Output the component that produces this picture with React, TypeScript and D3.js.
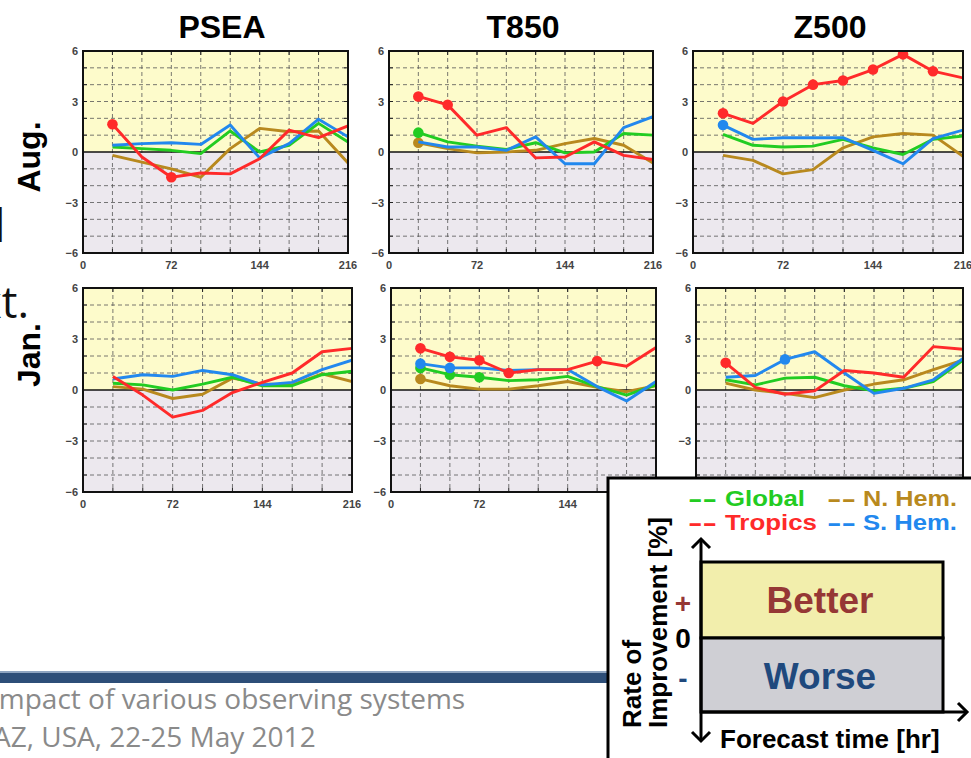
import React from 'react';
import * as d3 from 'd3';

// ---------- data ----------
const hours = [24, 48, 72, 96, 120, 144, 168, 192, 216];
const xTickValues = [0, 72, 144, 216];
const yTickValues = [6, 3, 0, -3, -6];
const variables = ['PSEA', 'T850', 'Z500'];
const months = ['Aug.', 'Jan.'];
const regionNames = ['Global', 'Tropics', 'N. Hem.', 'S. Hem.'];

// PSEA, August
const pseaAugGlobal = [0.3, 0.2, 0.1, -0.1, 1.25, 0.0, 0.4, 1.7, 0.6];
const pseaAugTropics = [1.65, -0.3, -1.5, -1.25, -1.3, -0.4, 1.3, 0.85, 1.55];
const pseaAugNH = [-0.2, -0.6, -1.0, -1.5, 0.2, 1.4, 1.2, 1.25, -0.65];
const pseaAugSH = [0.4, 0.5, 0.55, 0.45, 1.6, -0.35, 0.5, 1.95, 0.9];
// T850, August
const t850AugGlobal = [1.15, 0.6, 0.35, 0.15, 0.55, -0.05, 0.0, 1.1, 1.0];
const t850AugTropics = [3.3, 2.8, 1.0, 1.45, -0.35, -0.3, 0.6, -0.2, -0.45];
const t850AugNH = [0.55, 0.2, -0.05, 0.0, 0.1, 0.5, 0.8, 0.4, -0.65];
const t850AugSH = [0.6, 0.3, 0.3, 0.1, 0.9, -0.7, -0.7, 1.45, 2.1];
// Z500, August
const z500AugGlobal = [1.05, 0.4, 0.3, 0.35, 0.75, 0.25, -0.15, 0.75, 0.95];
const z500AugTropics = [2.3, 1.7, 3.0, 4.0, 4.25, 4.9, 5.8, 4.8, 4.4];
const z500AugNH = [-0.2, -0.5, -1.3, -1.05, 0.25, 0.9, 1.1, 1.0, -0.25];
const z500AugSH = [1.6, 0.75, 0.85, 0.85, 0.85, 0.1, -0.7, 0.8, 1.3];
// PSEA, January
const pseaJanGlobal = [0.4, 0.3, 0.0, 0.35, 0.75, 0.25, 0.25, 0.9, 1.1];
const pseaJanTropics = [0.8, -0.3, -1.6, -1.2, -0.15, 0.45, 1.0, 2.25, 2.45];
const pseaJanNH = [0.2, 0.05, -0.5, -0.25, 0.7, 0.35, 0.3, 0.95, 0.5];
const pseaJanSH = [0.65, 0.9, 0.8, 1.15, 0.9, 0.3, 0.45, 1.2, 1.75];
// T850, January
const t850JanGlobal = [1.3, 0.9, 0.75, 0.55, 0.6, 0.8, 0.2, -0.3, 0.3];
const t850JanTropics = [2.45, 1.95, 1.75, 1.0, 1.2, 1.2, 1.7, 1.4, 2.5];
const t850JanNH = [0.65, 0.25, 0.05, 0.05, 0.25, 0.5, 0.15, -0.1, 0.25];
const t850JanSH = [1.55, 1.3, 1.3, 1.15, 1.2, 1.2, 0.2, -0.65, 0.5];
// Z500, January
const z500JanGlobal = [0.6, 0.3, 0.7, 0.75, 0.25, -0.05, 0.1, 0.5, 1.75];
const z500JanTropics = [1.6, 0.15, -0.25, -0.05, 1.15, 1.0, 0.75, 2.55, 2.4];
const z500JanNH = [0.4, 0.0, -0.2, -0.45, 0.0, 0.35, 0.6, 1.2, 1.75];
const z500JanSH = [0.75, 0.85, 1.8, 2.25, 1.0, -0.2, 0.1, 0.6, 1.85];

// forecast hours marked as significant (dots)
const pseaAugTropicsSig = [24, 72];
const t850AugTropicsSig = [24, 48];
const t850AugGlobalSig = [24];
const t850AugNHSig = [24];
const z500AugTropicsSig = [24, 72, 96, 120, 144, 168, 192];
const z500AugSHSig = [24];
const t850JanTropicsSig = [24, 48, 72, 96, 168];
const t850JanSHSig = [24, 48];
const t850JanGlobalSig = [24, 48, 72];
const t850JanNHSig = [24];
const z500JanTropicsSig = [24];
const z500JanSHSig = [72];

// ---------- styling ----------
const COLORS: Record<string, string> = {
  'Global': '#22cc22',
  'Tropics': '#ff2a2a',
  'N. Hem.': '#b8891e',
  'S. Hem.': '#2288ee',
};
const FONT = 'Liberation Sans, Arial, Helvetica, sans-serif';

type Series = { name: string; values: number[]; sig: number[] };
type Box = { x0: number; x1: number; y0: number; y1: number };

const mk = (g: number[], t: number[], n: number[], s: number[], gs: number[] = [], ts: number[] = [], ns: number[] = [], ss: number[] = []): Series[] => [
  { name: 'N. Hem.', values: n, sig: ns },
  { name: 'Global', values: g, sig: gs },
  { name: 'S. Hem.', values: s, sig: ss },
  { name: 'Tropics', values: t, sig: ts },
];

const panelSeries: Series[][][] = [
  [
    mk(pseaAugGlobal, pseaAugTropics, pseaAugNH, pseaAugSH, [], pseaAugTropicsSig),
    mk(t850AugGlobal, t850AugTropics, t850AugNH, t850AugSH, t850AugGlobalSig, t850AugTropicsSig, t850AugNHSig),
    mk(z500AugGlobal, z500AugTropics, z500AugNH, z500AugSH, [], z500AugTropicsSig, [], z500AugSHSig),
  ],
  [
    mk(pseaJanGlobal, pseaJanTropics, pseaJanNH, pseaJanSH),
    mk(t850JanGlobal, t850JanTropics, t850JanNH, t850JanSH, t850JanGlobalSig, t850JanTropicsSig, t850JanNHSig, t850JanSHSig),
    mk(z500JanGlobal, z500JanTropics, z500JanNH, z500JanSH, [], z500JanTropicsSig, [], z500JanSHSig),
  ],
];

const boxes: Box[][] = [
  [
    { x0: 83, x1: 348, y0: 51, y1: 253 },
    { x0: 389, x1: 653, y0: 51, y1: 253 },
    { x0: 693, x1: 963, y0: 51, y1: 253 },
  ],
  [
    { x0: 83, x1: 352, y0: 288, y1: 492 },
    { x0: 391, x1: 656, y0: 288, y1: 492 },
    { x0: 696, x1: 963, y0: 288, y1: 492 },
  ],
];

function Panel({ box, series, id }: { box: Box; series: Series[]; id: string }) {
  const x = d3.scaleLinear().domain([0, 216]).range([box.x0, box.x1]);
  const y = d3.scaleLinear().domain([-6, 6]).range([box.y1, box.y0]);
  const line = d3
    .line<number>()
    .x((_, i) => x(hours[i]))
    .y((d) => y(d));
  const vGrid = d3.range(24, 216, 24);
  const hGrid = d3.range(-5, 6).filter((v) => v !== 0);
  const w = box.x1 - box.x0;
  return (
    <g>
      <defs>
        <clipPath id={id}>
          <rect x={box.x0} y={box.y0} width={w} height={box.y1 - box.y0} />
        </clipPath>
      </defs>
      <rect x={box.x0} y={y(6)} width={w} height={y(0) - y(6)} fill="#fdfbcb" />
      <rect x={box.x0} y={y(0)} width={w} height={y(-6) - y(0)} fill="#ece8ee" />
      {vGrid.map((h) => (
        <line key={'v' + h} x1={x(h)} x2={x(h)} y1={box.y0} y2={box.y1} stroke="#555" strokeWidth={0.8} strokeDasharray="4,3" />
      ))}
      {hGrid.map((v) => (
        <line key={'h' + v} x1={box.x0} x2={box.x1} y1={y(v)} y2={y(v)} stroke="#555" strokeWidth={0.8} strokeDasharray="4,3" />
      ))}
      {vGrid.map((h) => (
        <g key={'t' + h}>
          <line x1={x(h)} x2={x(h)} y1={box.y0} y2={box.y0 + 4} stroke="#222" strokeWidth={1} />
          <line x1={x(h)} x2={x(h)} y1={box.y1} y2={box.y1 - 4} stroke="#222" strokeWidth={1} />
        </g>
      ))}
      {hGrid.map((v) => (
        <g key={'u' + v}>
          <line x1={box.x0} x2={box.x0 + 4} y1={y(v)} y2={y(v)} stroke="#222" strokeWidth={1} />
          <line x1={box.x1} x2={box.x1 - 4} y1={y(v)} y2={y(v)} stroke="#222" strokeWidth={1} />
        </g>
      ))}
      <line x1={box.x0} x2={box.x1} y1={y(0)} y2={y(0)} stroke="#111" strokeWidth={1.3} />
      <g clipPath={`url(#${id})`}>
        {series.map((s) => (
          <g key={s.name}>
            <path d={line(s.values) || ''} fill="none" stroke={COLORS[s.name]} strokeWidth={2.9} strokeLinejoin="round" />
            {s.sig.map((h) => (
              <circle key={h} cx={x(h)} cy={y(s.values[hours.indexOf(h)])} r={5.3} fill={COLORS[s.name]} />
            ))}
          </g>
        ))}
      </g>
      <rect x={box.x0} y={box.y0} width={w} height={box.y1 - box.y0} fill="none" stroke="#111" strokeWidth={2} />
      {yTickValues.map((v) => (
        <text key={'yl' + v} x={box.x0 - 5} y={y(v) + 4} textAnchor="end" fontFamily={FONT} fontWeight="bold" fontSize={11} fill="#444">
          {v < 0 ? '\u2212' + Math.abs(v) : String(v)}
        </text>
      ))}
      {xTickValues.map((h) => (
        <text key={'xl' + h} x={x(h)} y={box.y1 + 16} textAnchor="middle" fontFamily={FONT} fontWeight="bold" fontSize={11} fill="#444">
          {h}
        </text>
      ))}
    </g>
  );
}

function Legend() {
  const ax = 701;
  const rectTop = 562;
  const mid = 638;
  const bottom = 712;
  const rectRight = 943;
  const chevron = (cx: number, cy: number, dir: 'up' | 'down' | 'right') => {
    const s = 9;
    if (dir === 'up') return `M${cx - s},${cy + s} L${cx},${cy} L${cx + s},${cy + s}`;
    if (dir === 'down') return `M${cx - s},${cy - s} L${cx},${cy} L${cx + s},${cy - s}`;
    return `M${cx - s},${cy - s} L${cx},${cy} L${cx - s},${cy + s}`;
  };
  const legendItems = [
    { name: regionNames[0], dx: 688, tx: 725, y: 506 },
    { name: regionNames[2], dx: 827, tx: 863, y: 506 },
    { name: regionNames[1], dx: 688, tx: 725, y: 530 },
    { name: regionNames[3], dx: 827, tx: 863, y: 530 },
  ];
  return (
    <g fontFamily={FONT}>
      <rect x={608} y={478} width={400} height={300} fill="#fff" stroke="#000" strokeWidth={3} />
      {legendItems.map((it) => (
        <g key={it.name} fontWeight="bold" fontSize={22} fill={COLORS[it.name]}>
          <text x={it.dx} y={it.y} textLength={29} lengthAdjust="spacingAndGlyphs">--</text>
          <text x={it.tx} y={it.y} textLength={it.name === 'Global' ? 80 : it.name === 'Tropics' ? 92 : 94} lengthAdjust="spacingAndGlyphs">{it.name}</text>
        </g>
      ))}
      <rect x={ax} y={rectTop} width={rectRight - ax} height={mid - rectTop} fill="#f2eeac" stroke="#000" strokeWidth={3} />
      <rect x={ax} y={mid} width={rectRight - ax} height={bottom - mid} fill="#cfcfd4" stroke="#000" strokeWidth={3} />
      <line x1={ax} x2={ax} y1={540} y2={740} stroke="#000" strokeWidth={3} />
      <path d={chevron(ax, 539, 'up')} fill="none" stroke="#000" strokeWidth={3} />
      <path d={chevron(ax, 741, 'down')} fill="none" stroke="#000" strokeWidth={3} />
      <line x1={ax} x2={966} y1={bottom} y2={bottom} stroke="#000" strokeWidth={3} />
      <path d={chevron(967, bottom, 'right')} fill="none" stroke="#000" strokeWidth={3} />
      <text x={820} y={613} textAnchor="middle" fontWeight="bold" fontSize={37} fill="#953735">Better</text>
      <text x={820} y={689} textAnchor="middle" fontWeight="bold" fontSize={37} fill="#1f497d">Worse</text>
      <text x={683} y={613} textAnchor="middle" fontWeight="bold" fontSize={28} fill="#953735">+</text>
      <text x={683} y={648} textAnchor="middle" fontWeight="bold" fontSize={28} fill="#000">0</text>
      <text x={683} y={688} textAnchor="middle" fontWeight="bold" fontSize={28} fill="#1f497d">-</text>
      <text transform="translate(641,728) rotate(-90)" fontWeight="bold" fontSize={26} fill="#000">Rate of</text>
      <text transform="translate(667,728) rotate(-90)" fontWeight="bold" fontSize={26} fill="#000">Improvement [%]</text>
      <text x={720} y={748} fontWeight="bold" fontSize={26} fill="#000">Forecast time [hr]</text>
    </g>
  );
}

export default function App() {
  const titleX = [222, 523, 830];
  const monthY = [157, 355];
  return (
    <svg width={971} height={758} style={{ position: 'absolute', left: 0, top: 0, background: '#fff' }}>
      <rect x={0} y={0} width={971} height={758} fill="#fff" />
      {/* slide fragments on the left */}
      <text x={-24} y={242} fontFamily="DejaVu Sans, sans-serif" fontSize={48} fill="#111">Ǝ</text>
      <text x={29} y={318} textAnchor="end" fontFamily="Open Sans, sans-serif" fontSize={44} fill="#111">Ext.</text>
      {variables.map((v, i) => (
        <text key={v} x={titleX[i]} y={38} textAnchor="middle" fontFamily={FONT} fontWeight="bold" fontSize={32} fill="#000">
          {v}
        </text>
      ))}
      {months.map((m, i) => (
        <text key={m} transform={`translate(40,${monthY[i]}) rotate(-90)`} textAnchor="middle" fontFamily={FONT} fontWeight="bold" fontSize={32} fill="#000">
          {m}
        </text>
      ))}
      {boxes.map((row, r) =>
        row.map((box, c) => <Panel key={`${r}-${c}`} id={`clip-${r}-${c}`} box={box} series={panelSeries[r][c]} />)
      )}
      {/* footer */}
      <rect x={0} y={672} width={607} height={11} fill="#2d4e78" />
      <rect x={0} y={671} width={607} height={2} fill="#8ea4c0" />
      <text x={-9} y={709} fontFamily="Open Sans, sans-serif" fontSize={28} fill="#8a8a8a">Impact of various observing systems</text>
      <text x={-7} y={747} fontFamily="Open Sans, sans-serif" fontSize={28} fill="#8a8a8a">AZ, USA, 22-25 May 2012</text>
      <Legend />
    </svg>
  );
}
